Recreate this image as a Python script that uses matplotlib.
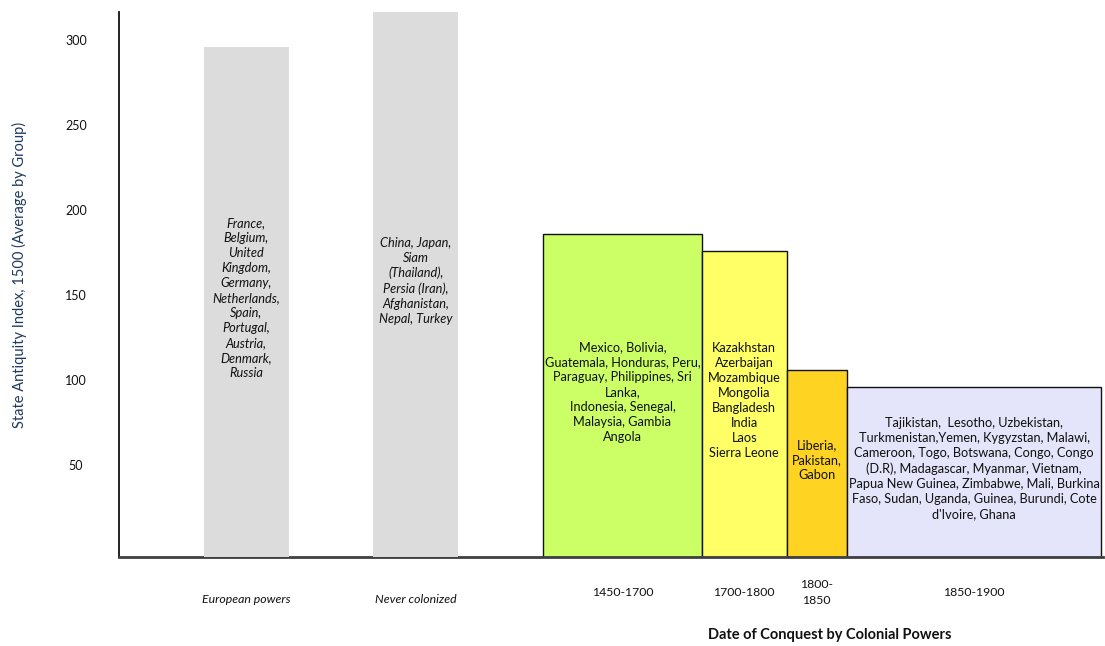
import matplotlib.pyplot as plt

# groups, ordered left to right
groups = ["European powers", "Never colonized", "1450-1700", "1700-1800", "1800-\n1850", "1850-1900"]
# left edges and widths of each group block (x units)
left_edges = [1.0, 3.0, 5.0, 6.87, 7.87, 8.58]
widths = [1.0, 1.0, 1.87, 1.0, 0.71, 3.0]
# average state antiquity index per group
values = [296, 330, 186, 176, 106, 96]
colors = ["#dcdcdc", "#dcdcdc", "#ccff66", "#ffff66", "#ffd322", "#e4e4fa"]
countries = [
    "France,\nBelgium,\nUnited\nKingdom,\nGermany,\nNetherlands,\nSpain,\nPortugal,\nAustria,\nDenmark,\nRussia",
    "China, Japan,\nSiam\n(Thailand),\nPersia (Iran),\nAfghanistan,\nNepal, Turkey",
    "Mexico, Bolivia,\nGuatemala, Honduras, Peru,\nParaguay, Philippines, Sri\nLanka,\nIndonesia, Senegal,\nMalaysia, Gambia\nAngola",
    "Kazakhstan\nAzerbaijan\nMozambique\nMongolia\nBangladesh\nIndia\nLaos\nSierra Leone",
    "Liberia,\nPakistan,\nGabon",
    "Tajikistan,  Lesotho, Uzbekistan,\nTurkmenistan,Yemen, Kygyzstan, Malawi,\nCameroon, Togo, Botswana, Congo, Congo\n(D.R), Madagascar, Myanmar, Vietnam,\nPapua New Guinea, Zimbabwe, Mali, Burkina\nFaso, Sudan, Uganda, Guinea, Burundi, Cote\nd'Ivoire, Ghana",
]
italic = [True, True, False, False, False, False]
yticks = [50, 100, 150, 200, 250, 300]

plt.rcParams['font.family'] = ['Lato', 'DejaVu Sans']

fig = plt.figure(figsize=(11.05, 6.46), dpi=100)
ax = fig.add_axes([0.1077, 0.1378, 0.8905, 0.8436])
ymin, ymax = -4.1, 316.5
ax.set_xlim(0, 11.6)
ax.set_ylim(ymin, ymax)

for i in range(len(groups)):
    grey = italic[i]
    ax.bar(left_edges[i], values[i] - ymin, width=widths[i], bottom=ymin, align='edge',
           color=colors[i], edgecolor='none' if grey else '#111111',
           linewidth=0 if grey else 1.0, zorder=3 if grey else 2)
    cx = left_edges[i] + widths[i] / 2
    cy = min(values[i], ymax) / 2
    ax.text(cx, cy, countries[i], ha='center', va='center', fontsize=9.2,
            style='italic' if grey else 'normal', linespacing=1.3, color='#111111',
            zorder=4)
    ax.text(cx, -0.078 if grey else -0.065, groups[i], transform=ax.get_xaxis_transform(),
            ha='center', va='center', fontsize=8.8, style='italic' if grey else 'normal',
            linespacing=1.5, color='#111111')

ax.set_xticks([])
ax.set_yticks(yticks)
ax.tick_params(axis='y', length=0, pad=31, labelsize=9, labelcolor='#111111')
for lbl in ax.get_yticklabels():
    lbl.set_horizontalalignment('center')

ax.spines['top'].set_visible(False)
ax.spines['right'].set_visible(False)
ax.spines['left'].set_color('#111111')
ax.spines['left'].set_linewidth(1.3)
ax.spines['bottom'].set_color('#404040')
ax.spines['bottom'].set_linewidth(2)

ax.set_ylabel("State Antiquity Index, 1500 (Average by Group)", fontsize=10.5,
              color='#1f3a5f')
ax.yaxis.set_label_coords(-0.093, 0.517)
fig.text(0.751, 0.006, "Date of Conquest by Colonial Powers", ha='center', va='bottom',
         fontsize=10.5, fontweight='bold', color='#111111')

fig.savefig("out.png", dpi=100)
